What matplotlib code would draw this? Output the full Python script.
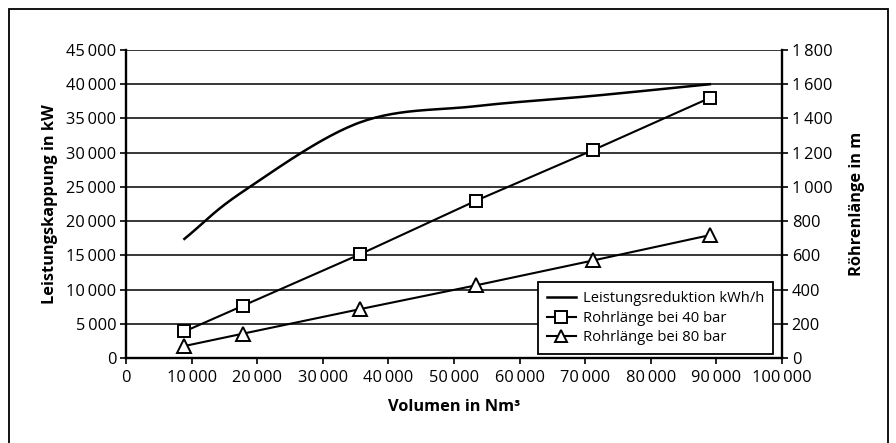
import numpy as np
import matplotlib
matplotlib.use("Agg")
import matplotlib.pyplot as plt
from matplotlib.patches import Rectangle

plt.rcParams['font.family'] = ['Open Sans', 'DejaVu Sans']

volumen = [8900, 17800, 35600, 53400, 71200, 89000]
leistung = [17400, 24300, 34400, 36800, 38300, 40000]
rohr40 = [155, 305, 605, 920, 1215, 1520]
rohr80 = [70, 142, 285, 425, 570, 718]

y_left_ticks = [0, 5000, 10000, 15000, 20000, 25000, 30000, 35000, 40000, 45000]
y_right_ticks = [0, 200, 400, 600, 800, 1000, 1200, 1400, 1600, 1800]
x_ticks = [0, 10000, 20000, 30000, 40000, 50000, 60000, 70000, 80000, 90000, 100000]


def fmt(v):
    return f"{v:,}".replace(",", "\u2009")


def catmull(xs, ys, n=30):
    xs = np.asarray(xs, float); ys = np.asarray(ys, float)
    px = np.concatenate([[2*xs[0]-xs[1]], xs, [2*xs[-1]-xs[-2]]])
    py = np.concatenate([[2*ys[0]-ys[1]], ys, [2*ys[-1]-ys[-2]]])
    ox, oy = [], []
    t = np.linspace(0, 1, n)
    for i in range(1, len(px)-2):
        p0, p1, p2, p3 = [np.array([px[j], py[j]]) for j in (i-1, i, i+1, i+2)]
        for tt in t:
            pt = 0.5*((2*p1) + (-p0+p2)*tt + (2*p0-5*p1+4*p2-p3)*tt**2 + (-p0+3*p1-3*p2+p3)*tt**3)
            ox.append(pt[0]); oy.append(pt[1])
    return ox, oy


TFS = 11.8

fig = plt.figure(figsize=(8.96, 4.43), dpi=100)
fig.patches.append(Rectangle((9/896, -0.05), (888-9)/896, 1.05-9/443, transform=fig.transFigure,
                             fill=False, edgecolor='black', linewidth=1.3))

ax = fig.add_axes([126/896, 1-358/443, (782-126)/896, (358-50)/443])
ax2 = ax.twinx()

ax.set_xlim(0, 100000)
ax.set_ylim(0, 45000)
ax2.set_ylim(0, 1800)

for v in y_left_ticks[1:]:
    ax.axhline(v, color='black', linewidth=1.1, zorder=1)

sx, sy = catmull(volumen, leistung)
l1, = ax.plot(sx, sy, color='black', linewidth=1.8, zorder=3)
l2, = ax2.plot(volumen, rohr40, color='black', linewidth=1.5, marker='s', markersize=9,
               markerfacecolor='white', markeredgecolor='black', markeredgewidth=1.4, zorder=3)
l3, = ax2.plot(volumen, rohr80, color='black', linewidth=1.5, marker='^', markersize=10,
               markerfacecolor='white', markeredgecolor='black', markeredgewidth=1.4, zorder=3)

ax.set_xticks(x_ticks)
ax.set_xticklabels([fmt(v) for v in x_ticks], fontsize=TFS)
ax.set_yticks(y_left_ticks)
ax.set_yticklabels([fmt(v) for v in y_left_ticks], fontsize=TFS)
ax2.set_yticks(y_right_ticks)
ax2.set_yticklabels([fmt(v) for v in y_right_ticks], fontsize=TFS)

for a in (ax, ax2):
    a.spines['top'].set_visible(False)
    a.tick_params(direction='out', length=4, width=1.2, color='black', pad=3)
ax.tick_params(axis='x', pad=5)
ax.spines['left'].set_linewidth(1.7)
ax.spines['bottom'].set_linewidth(1.7)
ax2.spines['right'].set_linewidth(1.7)
ax.spines['right'].set_visible(False)
ax2.spines['left'].set_visible(False)
ax2.spines['bottom'].set_visible(False)

ax.set_xlabel("Volumen in Nm³", fontsize=TFS, fontweight='bold', labelpad=9)
ax.set_ylabel("Leistungskappung in kW", fontsize=TFS, fontweight='bold', labelpad=6)
ax2.set_ylabel("Röhrenlänge in m", fontsize=TFS, fontweight='bold', labelpad=12)

leg = ax2.legend([l1, l2, l3], ["Leistungsreduktion kWh/h", "Rohrlänge bei 40 bar", "Rohrlänge bei 80 bar"],
                 loc='lower right', bbox_to_anchor=(0.986, 0.013), fontsize=10.6, frameon=True,
                 fancybox=False, edgecolor='black', framealpha=1, borderpad=0.6, labelspacing=0.3,
                 handlelength=2.0, handletextpad=0.45, borderaxespad=0)
leg.get_frame().set_linewidth(1.3)
for h in leg.legend_handles:
    try:
        h.set_markersize(8)
    except Exception:
        pass

fig.savefig("out.png", dpi=100)
